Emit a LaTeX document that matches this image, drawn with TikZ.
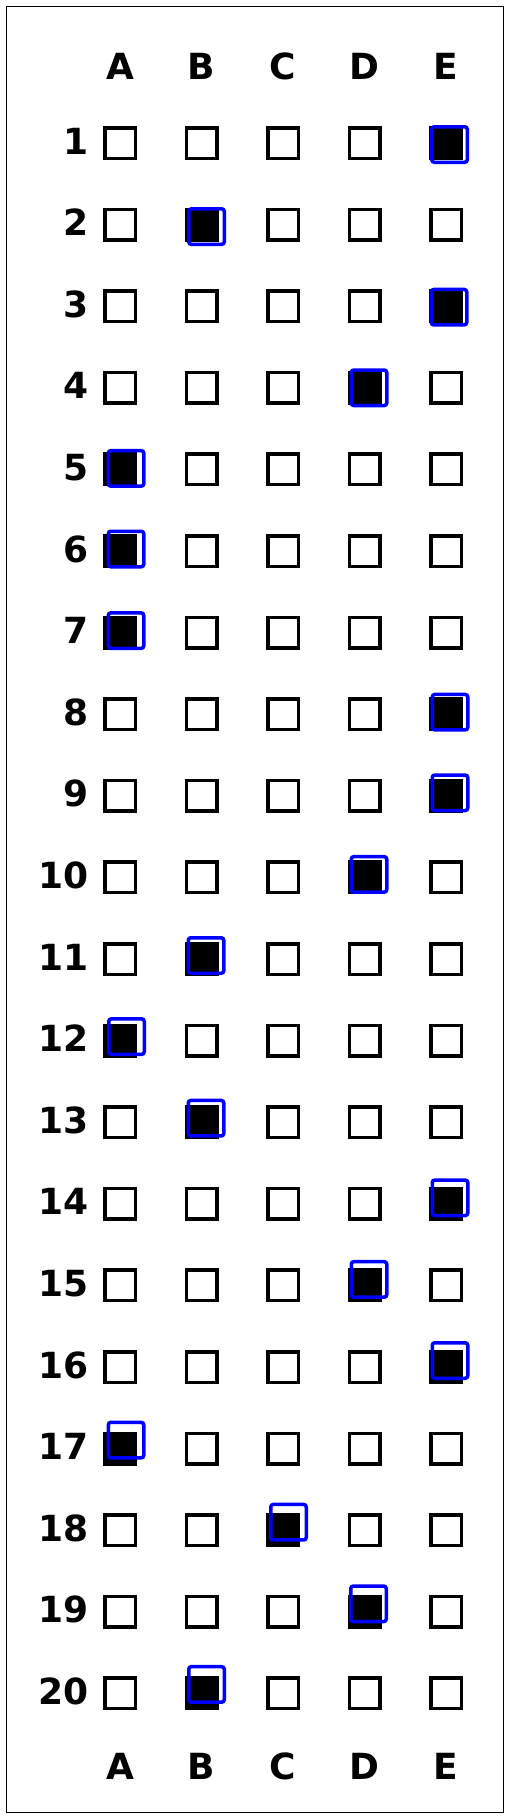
\documentclass[tikz,border=0pt]{standalone}
\usepackage{fontspec}
\setmainfont{DejaVu Sans}
\begin{document}
\begin{tikzpicture}[x=1pt,y=-1pt,
  cell/.style={draw=black, line width=3.5pt, minimum size=30.5pt, inner sep=0pt, fill=white},
  filledcell/.style={cell, fill=black},
  sel/.style={draw=blue, line width=3.5pt, minimum size=35.5pt, inner sep=0pt, rounded corners=2.5pt},
  lbl/.style={font=\fontsize{36}{40}\selectfont\bfseries, inner sep=0pt}]
\useasboundingbox[fill=white] (0,0) rectangle (509,1818);
\draw[line width=1pt] (6,6) rectangle (503,1812);
\foreach \c/\L in {1/A,2/B,3/C,4/D,5/E} {
  \node[lbl] (top\L) at ({120+(\c-1)*81.5},66) {\L};
  \node[lbl] (bot\L) at ({120+(\c-1)*81.5},1766.5) {\L};
}
\foreach \r/\a/\dx/\dy in {1/5/3.5/1.5, 2/2/5/2, 3/5/3/1, 4/4/4.5/0, 5/1/6/-1,
  6/1/6/-2, 7/1/6/-2, 8/5/4/-2, 9/5/4/-3, 10/4/4.5/-3, 11/2/4.5/-3.5,
  12/1/6.5/-4, 13/2/4.5/-4, 14/5/4/-6, 15/4/4.5/-6, 16/5/4/-6.5,
  17/1/6/-8.5, 18/3/5.5/-8, 19/4/4/-8, 20/2/5/-9} {
  \pgfmathsetmacro\yy{143+(\r-1)*81.6}
  \node[lbl, anchor=east] (num\r) at (89,\yy-2) {\r};
  \foreach \c in {1,...,5} {
    \ifnum\c=\a
      \node[filledcell] (c\r-\c) at ({120+(\c-1)*81.5},\yy) {};
    \else
      \node[cell] (c\r-\c) at ({120+(\c-1)*81.5},\yy) {};
    \fi
  }
  \node[sel] (s\r) at ({120+(\a-1)*81.5+\dx},{\yy+\dy}) {};
}
\end{tikzpicture}
\end{document}
